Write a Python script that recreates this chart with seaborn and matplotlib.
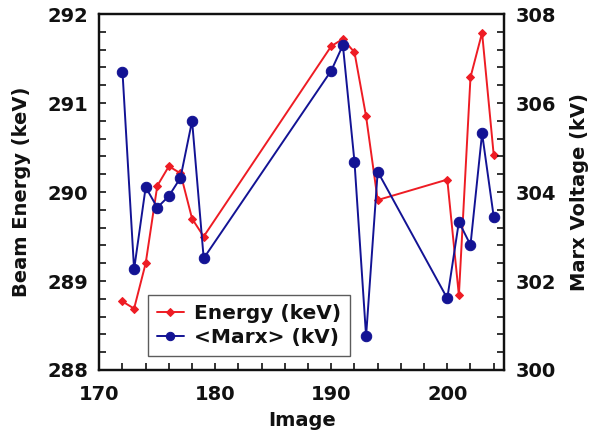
import matplotlib
matplotlib.use("Agg")
import matplotlib.pyplot as plt
import seaborn as sns
import pandas as pd
from matplotlib.ticker import MultipleLocator

sns.set_theme(style="ticks")
plt.rcParams['font.family'] = ['DejaVu Sans']
plt.rcParams['font.weight'] = 'bold'
for key in ("text.color", "axes.labelcolor", "xtick.color", "ytick.color",
            "axes.edgecolor"):
    plt.rcParams[key] = "#111111"

# Shot image numbers and measured quantities
image = [172, 173, 174, 175, 176, 177, 178, 179, 190, 191, 192, 193, 194,
         200, 201, 202, 203, 204]
energy_kev = [288.77, 288.69, 289.20, 290.07, 290.29, 290.21, 289.70, 289.50,
              291.64, 291.72, 291.57, 290.85, 289.91, 290.14, 288.84, 291.29,
              291.79, 290.42]
marx_kv = [306.70, 302.26, 304.11, 303.65, 303.91, 304.32, 305.60, 302.51,
           306.73, 307.30, 304.68, 300.76, 304.46, 301.61, 303.33, 302.81,
           305.32, 303.45]

df = pd.DataFrame({"Image": image, "Energy": energy_kev, "Marx": marx_kv})

red = "#ee1c24"
blue = "#131394"

fig = plt.figure(figsize=(5.91, 4.33), dpi=100)
ax = fig.add_axes([0.168, 0.1455, 0.685, 0.822])
ax2 = ax.twinx()

sns.lineplot(data=df, x="Image", y="Energy", ax=ax, color=red, marker="D",
             markersize=4.5, markeredgecolor=red, linewidth=1.4, sort=False)
sns.lineplot(data=df, x="Image", y="Marx", ax=ax2, color=blue, marker="o",
             markersize=7.5, markeredgecolor=blue, linewidth=1.4, sort=False)

ax.set_xlim(170, 204.9)
ax.set_ylim(288, 292)
ax2.set_ylim(300, 308)

ax.xaxis.set_major_locator(MultipleLocator(10))
ax.xaxis.set_minor_locator(MultipleLocator(2))
ax.yaxis.set_major_locator(MultipleLocator(1))
ax.yaxis.set_minor_locator(MultipleLocator(0.2))
ax2.yaxis.set_major_locator(MultipleLocator(2))
ax2.yaxis.set_minor_locator(MultipleLocator(0.4))

for a in (ax, ax2):
    for s in a.spines.values():
        s.set_color("#111111")
        s.set_linewidth(1.6)

ax.tick_params(axis="x", which="both", direction="in", bottom=True, top=False,
               length=5, width=1.2, labelsize=14, pad=11)
ax.tick_params(axis="y", which="both", direction="in", left=True, right=False,
               length=5, width=1.2, labelsize=14, pad=8)
ax2.tick_params(axis="y", which="both", direction="in", right=True, left=False,
                length=5, width=1.2, labelsize=14, pad=8)
ax2.tick_params(axis="x", which="both", bottom=False, top=False)

for lbl in ax.get_xticklabels() + ax.get_yticklabels() + ax2.get_yticklabels():
    lbl.set_fontweight("bold")

ax.set_xlabel("Image", fontsize=14, fontweight="bold", labelpad=5)
ax.set_ylabel("Beam Energy (keV)", fontsize=14, fontweight="bold", labelpad=12)
ax2.set_ylabel("Marx Voltage (kV)", fontsize=14, fontweight="bold", labelpad=10)

h1 = ax.get_lines()[0]
h2 = ax2.get_lines()[0]
leg = ax2.legend([h1, h2], ["Energy (keV)", "<Marx> (kV)"],
                 loc="lower left", bbox_to_anchor=(0.121, 0.039),
                 borderaxespad=0, frameon=True, fancybox=False,
                 prop={"weight": "bold", "size": 14.5},
                 handlelength=1.3, handletextpad=0.5, borderpad=0.45,
                 labelspacing=0.25, markerscale=0.8)
leg.get_frame().set_edgecolor("#333333")
leg.get_frame().set_linewidth(1.0)

fig.savefig("out.png", dpi=100)
